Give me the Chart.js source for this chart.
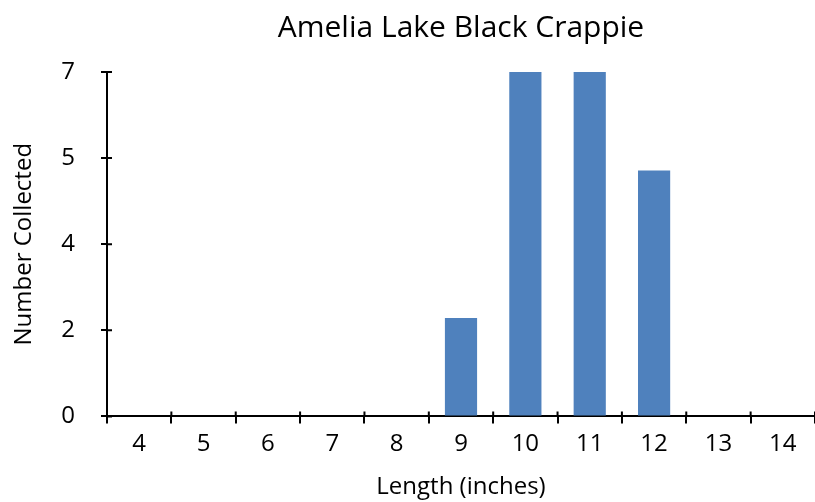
<!DOCTYPE html>
<html>
<head>
<meta charset="utf-8">
<script src="https://cdn.jsdelivr.net/npm/chart.js@4/dist/chart.umd.min.js"></script>
<style>
  html, body { margin: 0; padding: 0; background: #fff; }
  #wrap { width: 815px; height: 502px; }
</style>
</head>
<body>
<div id="wrap"><canvas id="chart" width="815" height="502"></canvas></div>
<script>
// Length classes (inches) and fish counts
const lengths = ["4", "5", "6", "7", "8", "9", "10", "11", "12", "13", "14"];
const counts  = [0, 0, 0, 0, 0, 2, 7, 7, 5, 0, 0];

const FONT = "'Open Sans', 'Liberation Sans', sans-serif";

// Excel-style ticks that cross the axis line (inner half)
const innerTicks = {
  id: "innerTicks",
  afterDraw(c) {
    const ctx = c.ctx;
    const x = c.scales.x, y = c.scales.y;
    ctx.save();
    ctx.strokeStyle = "#000";
    ctx.lineWidth = 2;
    ctx.beginPath();
    y.ticks.forEach((t, i) => {
      const py = y.getPixelForTick(i);
      ctx.moveTo(x.left, py);
      ctx.lineTo(x.left + 5, py);
    });
    for (let i = 0; i <= lengths.length; i++) {
      const px = x.left + (x.right - x.left) * i / lengths.length;
      ctx.moveTo(px, y.bottom);
      ctx.lineTo(px, y.bottom - 5);
    }
    ctx.stroke();
    ctx.restore();
  }
};

new Chart(document.getElementById("chart"), {
  type: "bar",
  data: {
    labels: lengths,
    datasets: [{
      data: counts,
      backgroundColor: "#4f81bd",
      categoryPercentage: 0.5,
      barPercentage: 1.0,
    }],
  },
  options: {
    responsive: false,
    animation: false,
    layout: { padding: { left: 10, right: 0, top: 10, bottom: 0 } },
    plugins: {
      legend: { display: false },
      tooltip: { enabled: false },
      title: {
        display: true,
        fullSize: false,   // centre over the plot area, like Excel
        text: "Amelia Lake Black Crappie",
        color: "#000",
        font: { family: FONT, size: 30, weight: "normal" },
        padding: { top: 0, bottom: 26 },
      },
    },
    scales: {
      x: {
        grid: { display: true, drawOnChartArea: false, offset: true, tickLength: 7, color: "#000", lineWidth: 2 },
        border: { display: true, color: "#000", width: 2 },
        ticks: { color: "#000", font: { family: FONT, size: 24 }, padding: 6, maxRotation: 0 },
        title: { display: true, text: "Length (inches)", color: "#000",
                 font: { family: FONT, size: 24 }, padding: { top: 9, bottom: 0 } },
      },
      y: {
        min: 0,
        max: 7,
        afterFit: s => { s.width = 97; },  // pin the axis line where the reference has it
        grid: { display: true, drawOnChartArea: false, tickLength: 6, color: "#000", lineWidth: 2 },
        border: { display: true, color: "#000", width: 2 },
        ticks: {
          stepSize: 1.75,
          color: "#000",
          font: { family: FONT, size: 24 },
          padding: 26,
          callback: v => Math.round(v).toString(),
        },
        title: { display: true, text: "Number Collected", color: "#000",
                 font: { family: FONT, size: 24 }, padding: { top: 0, bottom: 0 } },
      },
    },
  },
  plugins: [innerTicks],
});
</script>
</body>
</html>
